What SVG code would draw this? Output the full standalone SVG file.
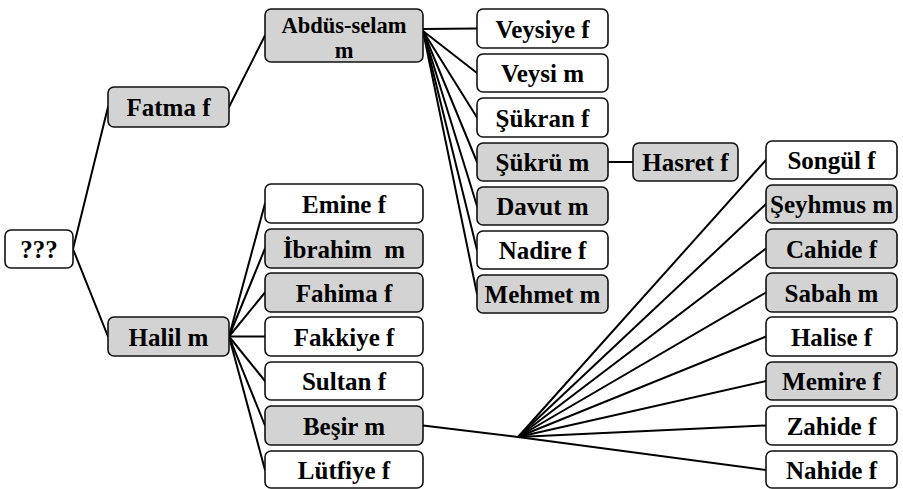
<svg xmlns="http://www.w3.org/2000/svg" width="903" height="489" viewBox="0 0 903 489">
<style>
.b{stroke:#111;stroke-width:1.6;fill:#fff}
.g{fill:#d3d3d3}
text{font-family:'Liberation Serif','Times New Roman',serif;font-weight:700;font-size:25px;fill:#000;text-anchor:middle;white-space:pre}
.t2{font-size:22.5px}
.c line{stroke:#000;stroke-width:2;stroke-linecap:round}
</style>
<rect width="903" height="489" fill="#fff"/>
<g class="c" id="connectors">
<line x1="73" y1="249" x2="108" y2="107"/>
<line x1="73" y1="249" x2="108" y2="336.5"/>
<line x1="229" y1="107" x2="265" y2="35.5"/>
<line x1="423" y1="29" x2="477" y2="28.5"/>
<line x1="423" y1="31" x2="477" y2="73"/>
<line x1="423" y1="31" x2="477" y2="117.5"/>
<line x1="423" y1="31" x2="477" y2="162"/>
<line x1="423" y1="31" x2="477" y2="206"/>
<line x1="423" y1="31" x2="477" y2="250"/>
<line x1="423" y1="31" x2="477" y2="294"/>
<line x1="608" y1="162" x2="633" y2="162"/>
<line x1="229" y1="336.5" x2="265" y2="203.5"/>
<line x1="229" y1="336.5" x2="265" y2="248.5"/>
<line x1="229" y1="336.5" x2="265" y2="292.5"/>
<line x1="229" y1="336.5" x2="265" y2="336.5"/>
<line x1="229" y1="336.5" x2="265" y2="381"/>
<line x1="229" y1="336.5" x2="265" y2="425.5"/>
<line x1="229" y1="336.5" x2="265" y2="470"/>
<line x1="423" y1="425.5" x2="518" y2="437"/>
<line x1="518" y1="437" x2="766" y2="160"/>
<line x1="518" y1="437" x2="766" y2="204"/>
<line x1="518" y1="437" x2="766" y2="248.5"/>
<line x1="518" y1="437" x2="766" y2="292.5"/>
<line x1="518" y1="437" x2="766" y2="336.5"/>
<line x1="518" y1="437" x2="766" y2="381"/>
<line x1="518" y1="437" x2="766" y2="425.5"/>
<line x1="518" y1="437" x2="766" y2="470"/>
</g>
<g id="n_root"><rect class="b" x="5" y="230" width="68" height="38" rx="6"/><text x="39" y="258">???</text></g>
<g id="n_fatma"><rect class="b g" x="108" y="87" width="121" height="40" rx="6"/><text x="168.5" y="116">Fatma f</text></g>
<g id="n_halil"><rect class="b g" x="108" y="317" width="121" height="39" rx="6"/><text x="168.5" y="346">Halil m</text></g>
<g id="n_abdus"><rect class="b g" x="265" y="9" width="158" height="53" rx="6"/><text class="t2" x="344" y="33">Abdüs-selam</text><text class="t2" x="344" y="58">m</text></g>
<g id="n_veysiye"><rect class="b" x="477" y="9" width="131" height="39" rx="6"/><text x="542.5" y="38">Veysiye f</text></g>
<g id="n_veysi"><rect class="b" x="477" y="54" width="131" height="38" rx="6"/><text x="542.5" y="82">Veysi m</text></g>
<g id="n_sukran"><rect class="b" x="477" y="98" width="131" height="39" rx="6"/><text x="542.5" y="127">Şükran f</text></g>
<g id="n_sukru"><rect class="b g" x="477" y="143" width="131" height="38" rx="6"/><text x="542.5" y="171">Şükrü m</text></g>
<g id="n_davut"><rect class="b g" x="477" y="187" width="131" height="38" rx="6"/><text x="542.5" y="215">Davut m</text></g>
<g id="n_nadire"><rect class="b" x="477" y="231" width="131" height="38" rx="6"/><text x="542.5" y="259">Nadire f</text></g>
<g id="n_mehmet"><rect class="b g" x="477" y="275" width="131" height="38" rx="6"/><text x="542.5" y="303">Mehmet m</text></g>
<g id="n_hasret"><rect class="b g" x="633" y="143" width="105" height="38" rx="6"/><text x="685.5" y="171">Hasret f</text></g>
<g id="n_emine"><rect class="b" x="265" y="184" width="158" height="39" rx="6"/><text x="344" y="213">Emine f</text></g>
<g id="n_ibrahim"><rect class="b g" x="265" y="229" width="158" height="39" rx="6"/><text x="344" y="258">İbrahim  m</text></g>
<g id="n_fahima"><rect class="b g" x="265" y="273" width="158" height="39" rx="6"/><text x="344" y="302">Fahima f</text></g>
<g id="n_fakkiye"><rect class="b" x="265" y="317" width="158" height="39" rx="6"/><text x="344" y="346">Fakkiye f</text></g>
<g id="n_sultan"><rect class="b" x="265" y="362" width="158" height="38" rx="6"/><text x="344" y="390">Sultan f</text></g>
<g id="n_besir"><rect class="b g" x="265" y="406" width="158" height="39" rx="6"/><text x="344" y="435">Beşir m</text></g>
<g id="n_lutfiye"><rect class="b" x="265" y="451" width="158" height="37" rx="6"/><text x="344" y="479">Lütfiye f</text></g>
<g id="n_songul"><rect class="b" x="766" y="141" width="131" height="38" rx="6"/><text x="831.5" y="169">Songül f</text></g>
<g id="n_seyhmus"><rect class="b g" x="766" y="185" width="131" height="38" rx="6"/><text x="831.5" y="213">Şeyhmus m</text></g>
<g id="n_cahide"><rect class="b g" x="766" y="229" width="131" height="39" rx="6"/><text x="831.5" y="258">Cahide f</text></g>
<g id="n_sabah"><rect class="b g" x="766" y="273" width="131" height="39" rx="6"/><text x="831.5" y="302">Sabah m</text></g>
<g id="n_halise"><rect class="b" x="766" y="317" width="131" height="39" rx="6"/><text x="831.5" y="346">Halise f</text></g>
<g id="n_memire"><rect class="b g" x="766" y="362" width="131" height="38" rx="6"/><text x="831.5" y="390">Memire f</text></g>
<g id="n_zahide"><rect class="b" x="766" y="406" width="131" height="39" rx="6"/><text x="831.5" y="435">Zahide f</text></g>
<g id="n_nahide"><rect class="b" x="766" y="451" width="131" height="37" rx="6"/><text x="831.5" y="479">Nahide f</text></g>
</svg>
